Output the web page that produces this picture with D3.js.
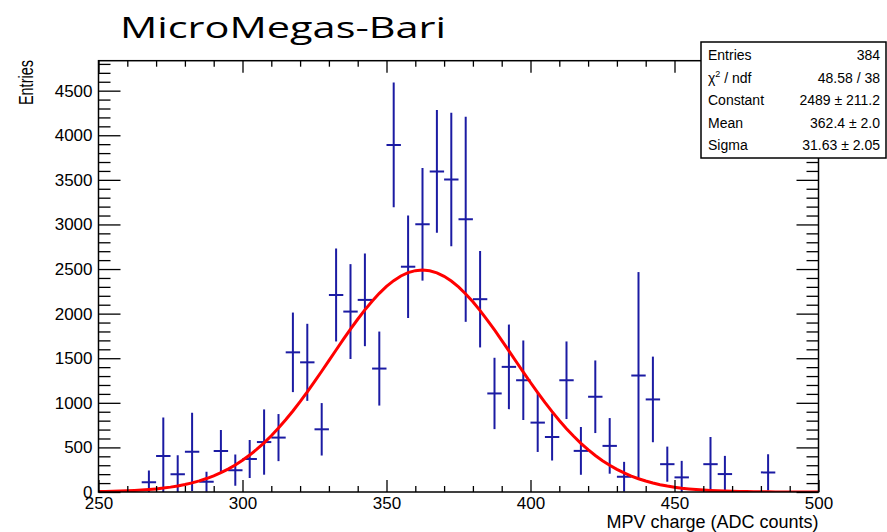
<!DOCTYPE html>
<html>
<head>
<meta charset="utf-8">
<script src="https://cdn.jsdelivr.net/npm/d3@7"></script>
<style>
  html, body { margin: 0; padding: 0; background: #fff; }
  svg { display: block; }
</style>
</head>
<body>
<div id="chart"></div>
<script>
// bin centres (width 5), contents and errors
const binCenters = [267.5, 272.5, 277.5, 282.5, 287.5, 292.5, 297.5, 302.5, 307.5, 312.5,
  317.5, 322.5, 327.5, 332.5, 337.5, 342.5, 347.5, 352.5, 357.5, 362.5,
  367.5, 372.5, 377.5, 382.5, 387.5, 392.5, 397.5, 402.5, 407.5, 412.5,
  417.5, 422.5, 427.5, 432.5, 437.5, 442.5, 447.5, 452.5, 462.5, 467.5, 482.5];
const counts = [110, 405, 200, 450, 115, 460, 245, 370, 560, 610,
  1566, 1454, 703, 2209, 2023, 2154, 1384, 3892, 2526, 3002,
  3594, 3504, 3058, 2162, 1105, 1403, 1253, 778, 617, 1253,
  461, 1068, 517, 171, 1306, 1038, 312, 164, 312, 201, 220];
const errors = [130, 430, 212, 440, 112, 235, 175, 213, 366, 264,
  446, 432, 294, 521, 532, 519, 415, 700, 575, 632,
  688, 748, 1150, 541, 400, 474, 446, 329, 264, 435,
  268, 407, 312, 167, 1160, 480, 197, 185, 305, 204, 204];
const binWidth = 5;

// gaussian fit parameters (from the stats box)
const fitConstant = 2489, fitMean = 362.4, fitSigma = 31.63;

const xMajorTicks = [250, 300, 350, 400, 450, 500];
const xMinorTicks = d3.range(260, 500, 10).filter(v => v % 50 !== 0);
const yMajorTicks = [0, 500, 1000, 1500, 2000, 2500, 3000, 3500, 4000, 4500];
const yMinorTicks = d3.range(100, 4836, 100).filter(v => v % 500 !== 0);

const statsRows = [
  ['Entries', '384'],
  ['chi2', '48.58 / 38'],
  ['Constant', '2489 \u00b1 211.2'],
  ['Mean', '362.4 \u00b1 2.0'],
  ['Sigma', '31.63 \u00b1 2.05']
];

const width = 887, height = 532;
const frame = { left: 98.5, right: 818.5, top: 60.7, bottom: 492 };
const axisFont = '"Liberation Sans", Arial, Helvetica, sans-serif';

const svg = d3.select('#chart').append('svg')
  .attr('width', width)
  .attr('height', height);

const x = d3.scaleLinear().domain([250, 500]).range([frame.left, frame.right]);
const y = d3.scaleLinear().domain([0, 4836]).range([frame.bottom, frame.top]);

// titre
svg.append('text')
  .attr('x', 120).attr('y', 38)
  .attr('font-family', '"Open Sans", "Noto Sans", sans-serif')
  .attr('font-size', 30)
  .attr('font-weight', 400)
  .attr('textLength', 326)
  .attr('lengthAdjust', 'spacingAndGlyphs')
  .attr('fill', '#000')
  .text('MicroMegas-Bari');

// clip for marks
svg.append('clipPath').attr('id', 'frameClip')
  .append('rect')
  .attr('x', frame.left).attr('y', frame.top)
  .attr('width', frame.right - frame.left)
  .attr('height', frame.bottom - frame.top);

const marks = svg.append('g').attr('clip-path', 'url(#frameClip)');

// error bars
const blue = '#1b1ba3';
const bars = marks.append('g');
binCenters.forEach((c, i) => {
  bars.append('line')
    .attr('x1', x(c)).attr('x2', x(c))
    .attr('y1', y(counts[i] + errors[i]))
    .attr('y2', y(Math.max(0, counts[i] - errors[i])))
    .attr('stroke', blue).attr('stroke-width', 2);
  bars.append('line')
    .attr('x1', x(c - binWidth / 2)).attr('x2', x(c + binWidth / 2))
    .attr('y1', y(counts[i])).attr('y2', y(counts[i]))
    .attr('stroke', blue).attr('stroke-width', 2);
});

// fit curve
const fitX = d3.range(250, 500.001, 2.5);
const gaus = v => fitConstant * Math.exp(-0.5 * Math.pow((v - fitMean) / fitSigma, 2));
marks.append('path')
  .datum(fitX)
  .attr('fill', 'none')
  .attr('stroke', '#ff0000')
  .attr('stroke-width', 3)
  .attr('d', d3.line().x(d => x(d)).y(d => y(gaus(d))));

// axes
function styleAxis(g) {
  g.select('.domain').remove();
  g.selectAll('line').attr('stroke', '#000').attr('stroke-width', 1.3);
  g.selectAll('text').attr('font-family', axisFont).attr('font-size', 17).attr('fill', '#000');
}

svg.append('g')
  .attr('transform', `translate(0,${frame.bottom})`)
  .call(d3.axisBottom(x).tickValues(xMajorTicks).tickSize(-12).tickPadding(5).tickFormat(d3.format('d')))
  .call(styleAxis);
svg.append('g')
  .attr('transform', `translate(0,${frame.bottom})`)
  .call(d3.axisBottom(x).tickValues(xMinorTicks).tickSize(-6).tickFormat(''))
  .call(styleAxis);
svg.append('g')
  .attr('transform', `translate(0,${frame.top})`)
  .call(d3.axisTop(x).tickValues(xMajorTicks).tickSize(-12).tickFormat(''))
  .call(styleAxis);
svg.append('g')
  .attr('transform', `translate(0,${frame.top})`)
  .call(d3.axisTop(x).tickValues(xMinorTicks).tickSize(-6).tickFormat(''))
  .call(styleAxis);

svg.append('g')
  .attr('transform', `translate(${frame.left},0)`)
  .call(d3.axisLeft(y).tickValues(yMajorTicks).tickSize(-22).tickPadding(6).tickFormat(d3.format('d')))
  .call(styleAxis);
svg.append('g')
  .attr('transform', `translate(${frame.left},0)`)
  .call(d3.axisLeft(y).tickValues(yMinorTicks).tickSize(-12).tickFormat(''))
  .call(styleAxis);
svg.append('g')
  .attr('transform', `translate(${frame.right},0)`)
  .call(d3.axisRight(y).tickValues(yMajorTicks).tickSize(-22).tickFormat(''))
  .call(styleAxis);
svg.append('g')
  .attr('transform', `translate(${frame.right},0)`)
  .call(d3.axisRight(y).tickValues(yMinorTicks).tickSize(-12).tickFormat(''))
  .call(styleAxis);

// cadre
svg.append('rect')
  .attr('x', frame.left).attr('y', frame.top)
  .attr('width', frame.right - frame.left)
  .attr('height', frame.bottom - frame.top)
  .attr('fill', 'none')
  .attr('stroke', '#000')
  .attr('stroke-width', 1.5);

// axis titles
svg.append('text')
  .attr('x', frame.right).attr('y', 528)
  .attr('text-anchor', 'end')
  .attr('font-family', axisFont)
  .attr('font-size', 18)
  .attr('fill', '#000')
  .text('MPV charge (ADC counts)');

svg.append('text')
  .attr('transform', 'translate(33,60) scale(1.35,1) rotate(-90)')
  .attr('text-anchor', 'end')
  .attr('font-family', axisFont)
  .attr('font-size', 14.5)
  .attr('fill', '#000')
  .text('Entries');

// stats box
const box = { x: 701, y: 42, w: 185, h: 116 };
svg.append('rect')
  .attr('x', box.x).attr('y', box.y)
  .attr('width', box.w).attr('height', box.h)
  .attr('fill', '#fff')
  .attr('stroke', '#000')
  .attr('stroke-width', 1.5);

const stats = svg.append('g')
  .attr('font-family', axisFont)
  .attr('font-size', 14)
  .attr('fill', '#000');

statsRows.forEach((r, i) => {
  const by = 60 + i * 22.5;
  const lab = stats.append('text').attr('x', 708).attr('y', by);
  if (r[0] === 'chi2') {
    lab.append('tspan').text('\u03c7');
    lab.append('tspan').attr('font-size', 9).attr('dy', -6).text('2');
    lab.append('tspan').attr('dy', 6).text(' / ndf');
  } else {
    lab.text(r[0]);
  }
  stats.append('text')
    .attr('x', 880).attr('y', by)
    .attr('text-anchor', 'end')
    .text(r[1]);
});
</script>
</body>
</html>
